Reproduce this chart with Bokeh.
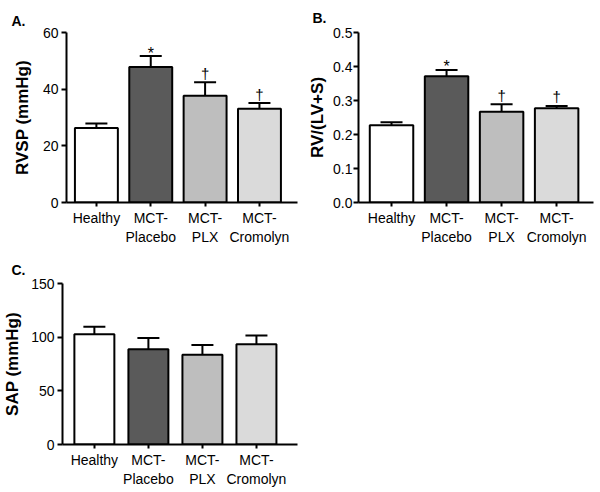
from bokeh.plotting import figure
from bokeh.models import (Range1d, FixedTicker, Whisker, TeeHead,
                          ColumnDataSource, NumeralTickFormatter)
from bokeh.layouts import column, row
from bokeh.core.properties import value
from bokeh.embed import file_html
from bokeh.resources import INLINE

# ---- data ----
groups = ["Healthy", "MCT-\nPlacebo", "MCT-\nPLX", "MCT-\nCromolyn"]
bar_colors = ["#ffffff", "#5a5a5a", "#bebebe", "#dadada"]
marks = ["", "*", "\u2020", "\u2020"]

rvsp = [26.3, 47.8, 37.7, 33.1]
rvsp_err = [1.6, 3.9, 4.7, 2.0]

rv_ratio = [0.227, 0.371, 0.267, 0.277]
rv_ratio_err = [0.009, 0.019, 0.022, 0.007]

sap = [102.7, 88.7, 83.7, 93.3]
sap_err = [6.9, 10.6, 9.0, 8.2]
sap_marks = ["", "", "", ""]

FONT = "Liberation Sans"


def make_panel(vals, errs, mk, ylabel, yticks, ymax, fmt, letter,
               W, H, left, top, right, bottom, x0, x1, bw, letter_off,
               letter_standoff, tick_standoff, label_standoff):
    xs = list(range(len(vals)))
    upper = [v + e for v, e in zip(vals, errs)]
    src = ColumnDataSource(dict(x=xs, top=vals, upper=upper, color=bar_colors))
    p = figure(width=W, height=H, min_border_left=left,
               min_border_top=top, min_border_right=right,
               min_border_bottom=bottom, x_range=Range1d(x0, x1),
               y_range=Range1d(0, ymax), output_backend="svg",
               toolbar_location=None, background_fill_color="white",
               border_fill_color="white")
    p.outline_line_color = None
    p.grid.visible = False

    p.title.text = letter
    p.title.align = "left"
    p.title.offset = letter_off
    p.title.standoff = letter_standoff
    p.title.text_font = FONT
    p.title.text_font_style = "bold"
    p.title.text_font_size = "14px"
    p.title.text_color = "black"

    p.vbar(x="x", top="top", bottom=0, width=bw, source=src,
           fill_color="color", line_color="black", line_width=2)
    w = Whisker(source=src, base="x", lower="top", upper="upper",
                dimension="height", line_width=2, line_color="black",
                upper_head=TeeHead(size=22, line_width=2, line_color="black"),
                lower_head=None)
    p.add_layout(w)

    for sym, off, size in (("*", -3, "16px"), ("\u2020", -9, "15px")):
        idx = [i for i, m in enumerate(mk) if m == sym]
        if idx:
            p.text(x=[xs[i] for i in idx], y=[upper[i] for i in idx],
                   text=[sym] * len(idx), text_align="center",
                   text_baseline="alphabetic", y_offset=off,
                   text_font=value(FONT), text_font_size=size,
                   text_color="black")

    # axes
    xa = p.xaxis[0]
    xa.ticker = FixedTicker(ticks=xs)
    xa.major_label_overrides = {i: g for i, g in enumerate(groups)}
    xa.minor_tick_line_color = None
    xa.major_tick_in = 0
    xa.major_tick_out = 4
    xa.major_tick_line_width = 2
    xa.axis_line_width = 2
    xa.major_label_standoff = 3
    xa.major_label_text_font = FONT
    xa.major_label_text_font_size = "14px"
    xa.major_label_text_color = "black"

    ya = p.yaxis[0]
    ya.ticker = FixedTicker(ticks=yticks)
    ya.formatter = NumeralTickFormatter(format=fmt)
    ya.minor_tick_line_color = None
    ya.major_tick_in = 0
    ya.major_tick_out = 5
    ya.major_tick_line_width = 2
    ya.axis_line_width = 2
    ya.major_label_standoff = tick_standoff
    ya.major_label_text_font = FONT
    ya.major_label_text_font_size = "14px"
    ya.major_label_text_color = "black"
    ya.axis_label = ylabel
    ya.axis_label_text_font = FONT
    ya.axis_label_text_font_style = "bold"
    ya.axis_label_text_font_size = "17px"
    ya.axis_label_text_color = "black"
    ya.axis_label_standoff = label_standoff
    return p


pA = make_panel(rvsp, rvsp_err, marks, "RVSP (mmHg)", [0, 20, 40, 60], 60,
                "0", "A.", W=300, H=250, left=66, top=32, right=3,
                bottom=48, x0=-0.55, x1=3.70, bw=0.79, letter_off=-55,
                letter_standoff=8, tick_standoff=3, label_standoff=8)
pB = make_panel(rv_ratio, rv_ratio_err, marks, "RV/(LV+S)",
                [0, 0.1, 0.2, 0.3, 0.4, 0.5], 0.5, "0.0", "B.", W=300, H=250,
                left=58, top=32, right=7, bottom=48, x0=-0.60, x1=3.67,
                bw=0.79, letter_off=-46, letter_standoff=13, tick_standoff=1,
                label_standoff=3)
pC = make_panel(sap, sap_err, sap_marks, "SAP (mmHg)", [0, 50, 100, 150], 150,
                "0", "C.", W=300, H=242, left=62, top=33, right=3,
                bottom=48, x0=-0.59, x1=3.76, bw=0.74, letter_off=-51,
                letter_standoff=12, tick_standoff=3, label_standoff=6)

layout = column(row(pA, pB), row(pC))
open("out.html", "w").write(file_html(layout, INLINE))
